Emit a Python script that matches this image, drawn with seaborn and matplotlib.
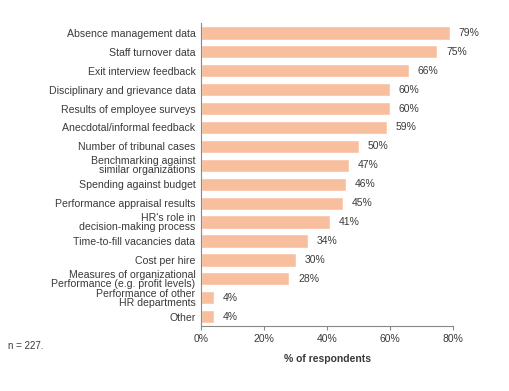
import pandas as pd
import seaborn as sns
import matplotlib
matplotlib.use("Agg")
import matplotlib.pyplot as plt

categories = [
    "Absence management data",
    "Staff turnover data",
    "Exit interview feedback",
    "Disciplinary and grievance data",
    "Results of employee surveys",
    "Anecdotal/informal feedback",
    "Number of tribunal cases",
    "Benchmarking against\nsimilar organizations",
    "Spending against budget",
    "Performance appraisal results",
    "HR's role in\ndecision-making process",
    "Time-to-fill vacancies data",
    "Cost per hire",
    "Measures of organizational\nPerformance (e.g. profit levels)",
    "Performance of other\nHR departments",
    "Other",
]
values = [79, 75, 66, 60, 60, 59, 50, 47, 46, 45, 41, 34, 30, 28, 4, 4]
xticks = [0, 20, 40, 60, 80]

df = pd.DataFrame({"category": categories, "value": values})

sns.set_theme(style="white")
plt.rcParams["font.family"] = ["Liberation Sans", "DejaVu Sans"]

text_color = "#3a3a3a"
fig = plt.figure(figsize=(5.09, 3.91), dpi=100)
ax = fig.add_axes([0.395, 0.166, 0.495, 0.774])

sns.barplot(data=df, x="value", y="category", color="#F8BF9F",
            saturation=1, width=0.7, ax=ax)

# value labels to the right of each bar
for i, v in enumerate(values):
    ax.text(v + 2.8, i, f"{v}%", va="center", ha="left", fontsize=7.5, color=text_color)

ax.set_xlim(0, 80)
ax.set_xticks(xticks)
ax.set_xticklabels([f"{t}%" for t in xticks], fontsize=7.5, color=text_color)
ax.tick_params(axis="x", length=3, width=0.8, color="#888888", pad=3, bottom=True)
ax.tick_params(axis="y", length=0, pad=4)
for lbl in ax.get_yticklabels():
    lbl.set_fontsize(7.6)
    lbl.set_color(text_color)
    lbl.set_linespacing(0.88)
ax.set_ylabel("")
ax.set_xlabel("% of respondents", fontsize=7.5, fontweight="bold", color=text_color, labelpad=7)

for s in ["top", "right"]:
    ax.spines[s].set_visible(False)
for s in ["left", "bottom"]:
    ax.spines[s].set_color("#888888")
    ax.spines[s].set_linewidth(0.8)

fig.text(0.016, 0.107, "n = 227.", fontsize=7, color=text_color)

fig.savefig("out.png", dpi=100)
